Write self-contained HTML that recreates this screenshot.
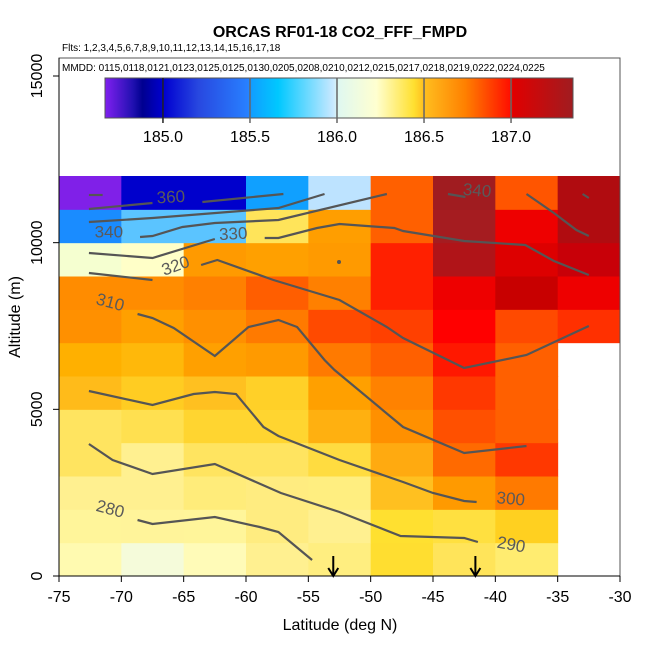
<!DOCTYPE html>
<html><head><meta charset="utf-8"><style>
body{margin:0;background:#fff;}
svg{display:block;font-family:"Liberation Sans",sans-serif;}
</style></head><body>
<svg id="c" width="650" height="650"></svg>
<script>
const lats=[-75,-70,-65,-60,-55,-50,-45,-40,-35,-30];
const alts=[0,1000,2000,3000,4000,5000,6000,7000,8000,9000,10000,11000,12000];
// cell colors, rows from top (11-12k) down to (0-1k); null = no data
const row11=["#8020E8","#0000CC","#0000CC","#10A0FF","#BDE3FF","#FF6000","#A01C20","#FF5500","#B00C10"];
const row10=["#1A8CFF","#5BC4FF","#5BC4FF","#FFE45A","#FF9E00","#FF6000","#A51C20","#EE0000","#B00C10"];
const row9=["#F5FFD0","#FFFFC8","#FF9A00","#FFA000","#FF9A00","#FF2000","#B01418","#DD0000","#C80008"];
const row8=["#FF8C00","#FF8C00","#FF8000","#FF5E00","#FF8000","#FF2000","#EE0000","#C80000","#EE0000"];
const row7=["#FF9000","#FFA000","#FF9000","#FF7A00","#FF4A00","#FF4000","#FF0000","#FF4A00","#FF3000"];
const row6=["#FFB000","#FFB80A","#FFA000","#FF9A00","#FF7A00","#FF6000","#FF1800","#FF6000",null];
const row5=["#FFBB1A","#FFCC22","#FFC020","#FFD028","#FFA000","#FF8200","#FF3800","#FF6000",null];
const row4=["#FFE460","#FFE050","#FFD530","#FFD530","#FFB010","#FF9000","#FF5000","#FF6000",null];
const row3=["#FFE460","#FFF090","#FFE460","#FFE460","#FFDC40","#FFAA10","#FF6A00","#FF3800",null];
const row2=["#FFF090","#FFF090","#FFEC7A","#FFEC80","#FFEE80","#FFC020","#FF9A00","#FF7A00",null];
const row1=["#FFF59A","#FFF49A","#FFF59A","#FFEC80","#FFF090","#FFE030","#FFE040","#FFD020",null];
const row0=["#FFFAB0","#F5FBDA","#FFFBB8","#FFF090","#FFEE80","#FFDE30","#FFE45A","#FFEC70",null];
const rows=[row0,row1,row2,row3,row4,row5,row6,row7,row8,row9,row10,row11];
const xTicks=[-75,-70,-65,-60,-55,-50,-45,-40,-35,-30];
const yTicks=[0,5000,10000,15000];
const cbTicks=[185.0,185.5,186.0,186.5,187.0];
// contours [lat, alt]
const contours=[
 [[-72.6,11430],[-71.5,11430]],
 [[-72.6,11010],[-67.5,11190]],
 [[-63.5,11220],[-57.0,11460]],
 [[-72.6,10620],[-67.5,10740],[-57.4,11040],[-53.7,11460]],
 [[-68.5,10170],[-67.5,10200],[-65.1,10470],[-62.5,10590],[-57.4,10680],[-48.7,11460]],
 [[-58.5,10140],[-57.4,10140],[-54.3,10440],[-52.5,10560],[-48.1,10440],[-47.4,10350],[-42.5,10050],[-37.6,9930],[-35.3,9450],[-32.5,9030]],
 [[-72.6,9690],[-67.5,9540],[-62.5,10110]],
 [[-72.6,9090],[-67.5,8880]],
 [[-63.6,9330],[-62.3,9480],[-57.8,8880],[-52.5,8280],[-48.7,7470],[-47.4,7140],[-42.5,6240],[-37.5,6630],[-32.5,7500]],
 [[-68.7,7860],[-67.5,7740],[-65.8,7440],[-62.5,6600],[-59.8,7470],[-57.4,7680],[-55.9,7470],[-53.7,6480],[-52.9,6180],[-47.4,4470],[-42.5,3690],[-37.5,3900]],
 [[-72.6,5550],[-67.5,5130],[-64.2,5460],[-62.5,5520],[-60.8,5460],[-58.6,4470],[-57.4,4200],[-52.5,3480],[-47.4,2820],[-45.0,2490],[-42.5,2250],[-41.5,2220]],
 [[-72.6,3960],[-70.7,3480],[-67.5,3060],[-62.5,3360],[-57.2,2490],[-52.5,1920],[-47.6,1200],[-42.5,1140],[-41.4,1020]],
 [[-68.7,1680],[-67.5,1560],[-62.5,1770],[-58.9,1470],[-57.4,1320],[-54.7,480]],
 [[-43.8,11460],[-42.4,11370]],
 [[-37.5,11460],[-35.3,10890],[-33.5,10380],[-32.5,10200]],
 [[-33.0,11460],[-32.5,11340]]
];
const clabels=[["360",-66.0,11200,-3],["340",-71.0,10150,0],["330",-61.0,10100,-3],["320",-65.5,9150,-20],["310",-71.0,8050,15],["340",-41.5,11400,5],["300",-38.8,2150,5],["290",-38.8,780,10],["280",-71.0,1850,15]];
const arrowsLat=[-53,-41.6];

const X0=59,X1=620,Y0=576,Y1=76;
const sx=v=>X0+(v+75)/45*(X1-X0);
const sy=v=>Y0-v/15000*(Y0-Y1);
const NS="http://www.w3.org/2000/svg";
const svg=document.getElementById('c');
function mk(t,a,p){const e=document.createElementNS(NS,t);for(const k in a)e.setAttribute(k,a[k]);(p||svg).appendChild(e);return e;}

for(let r=0;r<rows.length;r++)for(let c=0;c<rows[r].length;c++){
 const col=rows[r][c]; if(!col)continue;
 const x=sx(lats[c]),x2=sx(lats[c+1]),y=sy(alts[r+1]),y2=sy(alts[r]);
 const e=mk('rect',{x:x,y:y,width:x2-x+0.5,height:y2-y+0.5,fill:col});
 
 
}
contours.forEach(l=>{
 const e=mk('polyline',{points:l.map(p=>sx(p[0])+','+sy(p[1])).join(' '),fill:'none',stroke:'#555','stroke-width':2.2});
 
 
});
mk('circle',{cx:339,cy:262,r:2,fill:'#555'});
clabels.forEach(l=>{
 const x=sx(l[1]),y=sy(l[2]);
 const e=mk('text',{x:x,y:y,'font-size':17,fill:'#5a5a5a','text-anchor':'middle',transform:`rotate(${l[3]} ${x} ${y})`});
 e.textContent=l[0];
 
 
});
arrowsLat.forEach(a=>{
 const x=sx(a);
 const g=mk('g',{});
 
 
 mk('line',{x1:x,y1:556,x2:x,y2:576,stroke:'#000','stroke-width':2},g);
 mk('polyline',{points:`${x-5},${568} ${x},${576} ${x+5},${568}`,fill:'none',stroke:'#000','stroke-width':2},g);
});
mk('rect',{x:X0,y:58,width:X1-X0,height:Y0-58,fill:'none',stroke:'#555','stroke-width':1});
xTicks.forEach(t=>{
 const x=sx(t);
 mk('line',{x1:x,y1:Y0,x2:x,y2:Y0+6,stroke:'#000'});
 const e=mk('text',{x:x,y:Y0+26,'font-size':16,'text-anchor':'middle'});e.textContent=t;
 
 
});
mk('line',{x1:X0,y1:Y0,x2:X1,y2:Y0,stroke:'#000'});
yTicks.forEach(t=>{
 const y=sy(t);
 mk('line',{x1:X0-6,y1:y,x2:X0,y2:y,stroke:'#000'});
 const e=mk('text',{x:42,y:y,'font-size':16,'text-anchor':'middle',transform:`rotate(-90 42 ${y})`});e.textContent=t;
 
 
});
mk('line',{x1:X0,y1:58,x2:X0,y2:Y0,stroke:'#000'});
// colorbar
const CB0=184.667,CB1=187.356,cx=v=>105+(v-CB0)/(CB1-CB0)*468;
const defs=mk('defs',{});
const lg=mk('linearGradient',{id:'cbg',x1:0,x2:1,y1:0,y2:0},defs);
[[0,"#8020F0"],[0.06,"#2010B0"],[0.08,"#000090"],[0.125,"#0000D0"],[0.2,"#2848E0"],[0.305,"#2880FF"],[0.315,"#10A0FF"],[0.37,"#00C8FF"],[0.487,"#C8E8FF"],[0.5,"#E0F8F0"],[0.58,"#FFFFD0"],[0.66,"#FFE030"],[0.68,"#FFC020"],[0.77,"#FF8000"],[0.865,"#FF1000"],[0.872,"#E00000"],[1,"#A01C20"]].forEach(s=>mk('stop',{offset:s[0],'stop-color':s[1]},lg));
const cb=mk('rect',{x:105,y:78,width:468,height:40,fill:'url(#cbg)',stroke:'#555'});


cbTicks.forEach((t,i)=>{
 const x=cx(t);
 mk('line',{x1:x,y1:78,x2:x,y2:123,stroke:i==0?'#222':'#666','stroke-width':1.5});
 const e=mk('text',{x:x,y:142,'font-size':16,'text-anchor':'middle'});e.textContent=t.toFixed(1);
 
 
});
</script>
<svg width="650" height="650" style="position:absolute;left:0;top:0">
<text x="340" y="37" font-size="16" font-weight="bold" text-anchor="middle" font-family="Liberation Sans,sans-serif">ORCAS RF01-18 CO2_FFF_FMPD</text>
<text x="62" y="51" font-size="10" font-family="Liberation Sans,sans-serif">Flts: 1,2,3,4,5,6,7,8,9,10,11,12,13,14,15,16,17,18</text>
<text x="62" y="71" font-size="10" font-family="Liberation Sans,sans-serif">MMDD: 0115,0118,0121,0123,0125,0125,0130,0205,0208,0210,0212,0215,0217,0218,0219,0222,0224,0225</text>
<text x="340" y="630" font-size="16" text-anchor="middle" font-family="Liberation Sans,sans-serif">Latitude (deg N)</text>
<text x="20" y="317" font-size="16" text-anchor="middle" transform="rotate(-90 20 317)" font-family="Liberation Sans,sans-serif">Altitude (m)</text>
</svg>
</body></html>
